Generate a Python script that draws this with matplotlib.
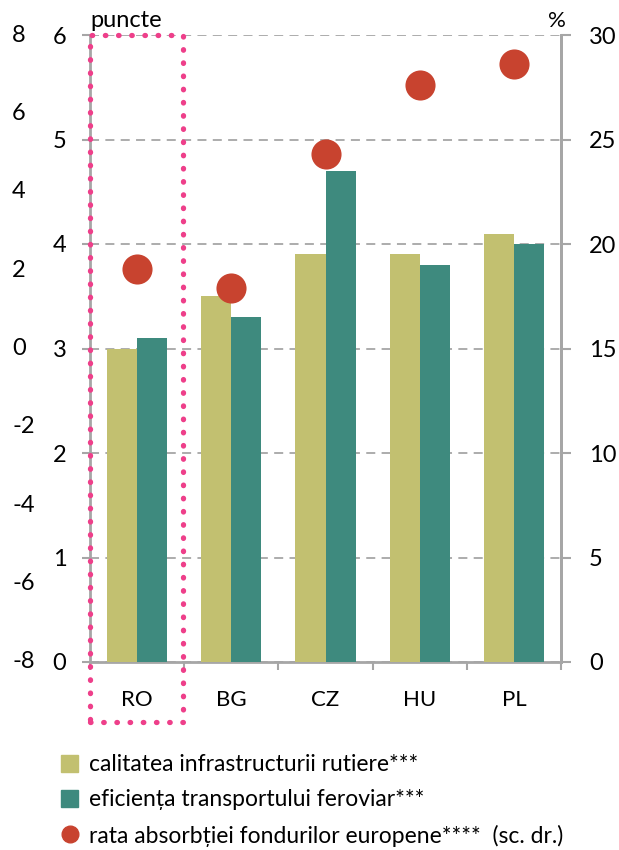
import numpy as np
import matplotlib
matplotlib.use('Agg')
import matplotlib.pyplot as plt
from matplotlib.patches import Rectangle, Patch
from matplotlib.lines import Line2D

plt.rcParams['font.family'] = ['Lato', 'DejaVu Sans']

countries = ['RO', 'BG', 'CZ', 'HU', 'PL']
road_quality = [3.0, 3.5, 3.9, 3.9, 4.1]      # puncte
rail_efficiency = [3.1, 3.3, 4.7, 3.8, 4.0]   # puncte
absorption_rate = [18.8, 17.9, 24.3, 27.6, 28.6]  # % (sc. dr.)
outer_ticks = [8, 6, 4, 2, 0, -2, -4, -6, -8]

labels = ['calitatea infrastructurii rutiere***',
          'eficiența transportului feroviar***',
          'rata absorbției fondurilor europene****  (sc. dr.)']

c_yellow = '#C2C070'
c_teal = '#3E8A7E'
c_red = '#C8432F'
c_grey = '#A6A6A6'
c_pink = '#EE3F8A'

fig = plt.figure(figsize=(6.19, 8.5), dpi=100)
ax = fig.add_axes([90/619, 1-662/850, (561-90)/619, (662-35)/850])

x = np.arange(len(countries))
w = 0.32
ax.bar(x - w/2, road_quality, w, color=c_yellow, zorder=3)
ax.bar(x + w/2, rail_efficiency, w, color=c_teal, zorder=3)

ax.set_xlim(-0.5, len(countries) - 0.5)
ax.set_ylim(0, 6)
ax.set_yticks(range(0, 7))
ax.yaxis.grid(True, color=c_grey, linestyle=(0, (5, 3.5)), linewidth=1.3, zorder=0)

ax.set_xticks(np.arange(-0.5, len(countries)), labels=[])
ax.set_xticks(x, labels=countries, minor=True)
ax.tick_params(axis='x', which='major', length=6, width=1.5, color=c_grey)
ax.tick_params(axis='x', which='minor', length=0, pad=20, labelsize=16)
ax.tick_params(axis='y', length=6, width=1.5, color=c_grey, labelsize=17, pad=11)

for s in ['left', 'right', 'bottom']:
    ax.spines[s].set_color(c_grey)
    ax.spines[s].set_linewidth(2)
ax.spines['top'].set_visible(False)

# right axis (%)
ax2 = ax.twinx()
ax2.scatter(x, absorption_rate, s=470, color=c_red, zorder=5, linewidths=0)
ax2.set_ylim(0, 30)
ax2.set_yticks(range(0, 31, 5))
ax2.tick_params(axis='y', length=7, width=1.5, color=c_grey, labelsize=17, pad=13)
for s in ['top', 'left', 'bottom']:
    ax2.spines[s].set_visible(False)
ax2.spines['right'].set_color(c_grey)
ax2.spines['right'].set_linewidth(2)

# outer left scale (no axis line, left-aligned labels)
ax3 = ax.twinx()
ax3.set_ylim(-8, 8)
ax3.set_yticks([])
for s in ax3.spines.values():
    s.set_visible(False)
for t in outer_ticks:
    ax3.text(-78/471, t, str(t), transform=ax3.get_yaxis_transform(),
             ha='left', va='center', fontsize=17, clip_on=False)

# highlight box around RO
rect = Rectangle((-0.5, -0.574), 0.99, 6.574, fill=False, edgecolor=c_pink,
                 linewidth=3.8, linestyle=(0, (0.1, 2.4)), clip_on=False, zorder=6)
rect.set_capstyle('round')
ax.add_patch(rect)

fig.text(90/619, 1-27/850, 'puncte', fontsize=17, ha='left', va='baseline')
fig.text(566/619, 1-27/850, '%', fontsize=16, ha='right', va='baseline')

handles = [Patch(color=c_yellow), Patch(color=c_teal),
           Line2D([], [], marker='o', linestyle='', color=c_red, markersize=12)]
fig.legend(handles, labels, loc='upper left', bbox_to_anchor=(52/619, 1-745/850),
           frameon=False, fontsize=16.5, handlelength=0.75, handleheight=0.75,
           handletextpad=0.45, labelspacing=0.62, borderaxespad=0)

plt.savefig('out.png', dpi=100)
